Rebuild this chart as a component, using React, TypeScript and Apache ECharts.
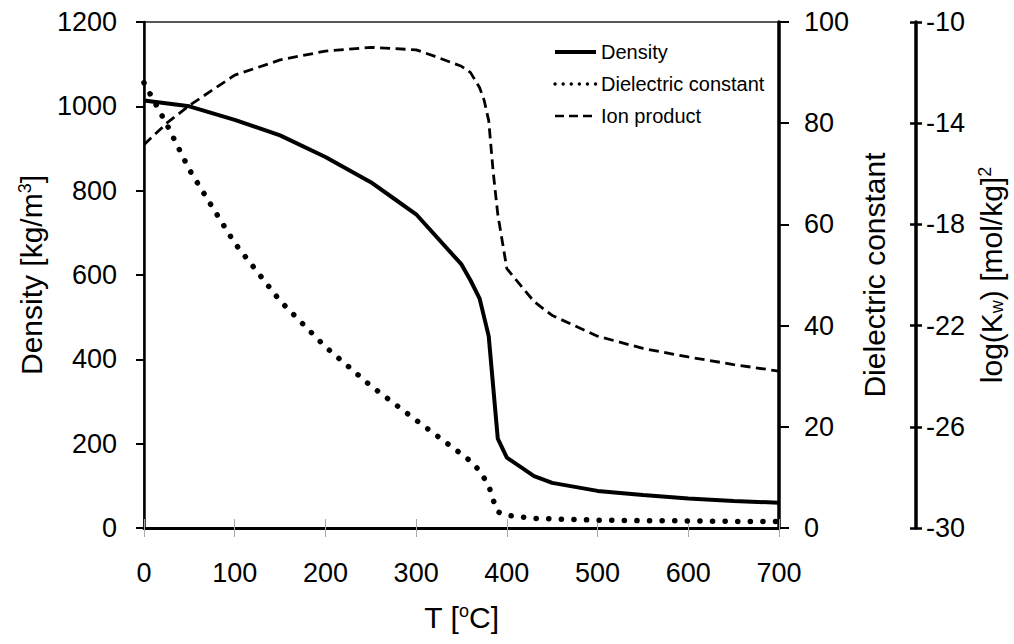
import React, { useEffect, useRef } from "react";
import * as echarts from "echarts";

// Temperature [°C] and values
const densityT = [0, 50, 100, 150, 200, 250, 275, 300, 350, 360, 370, 380, 390, 400, 430, 450, 500, 550, 600, 650, 700];
const densityV = [1014, 1000, 968, 931, 880, 820, 782, 744, 625, 587, 544, 455, 212, 167, 123, 107, 88, 78, 70, 64, 60];

const dielectricT = [0, 25, 50, 75, 100, 150, 200, 250, 300, 350, 360, 370, 380, 385, 390, 400, 430, 450, 500, 550, 600, 650, 700];
const dielectricV = [88, 79.8, 70.8, 63.5, 56.3, 44.9, 35.8, 28.1, 21.3, 14.6, 13.2, 11.3, 8.4, 5.5, 3.2, 2.5, 1.9, 1.8, 1.55, 1.45, 1.4, 1.3, 1.3];

const ionT = [0, 25, 50, 100, 150, 200, 250, 300, 320, 350, 360, 370, 375, 380, 385, 390, 400, 430, 450, 500, 550, 600, 650, 700];
const ionV = [-14.85, -14.0, -13.3, -12.1, -11.5, -11.15, -11.0, -11.1, -11.35, -11.75, -12.0, -12.6, -13.1, -13.9, -15.95, -17.6, -19.75, -21.05, -21.6, -22.42, -22.9, -23.24, -23.54, -23.8];

const logTicks = [-30, -26, -22, -18, -14, -10];

const seriesNames = ["Density", "Dielectric constant", "Ion product"];

const FONT = "'Liberation Sans', Arial, Helvetica, sans-serif";

const pairs = (xs: number[], ys: number[]) => xs.map((x, i) => [x, ys[i]]);

export default function App() {
  const ref = useRef<HTMLDivElement>(null);

  useEffect(() => {
    if (!ref.current) return;
    const chart = echarts.init(ref.current, null, { renderer: "svg" });

    const rich = {
      sup: { fontSize: 18, verticalAlign: "top", fontFamily: FONT, color: "#000", padding: [0, 0, 8, 0] },
      sub: { fontSize: 18, verticalAlign: "bottom", fontFamily: FONT, color: "#000", padding: [8, 0, 0, 0] },
    };
    const nameStyle = { fontSize: 30, fontFamily: FONT, color: "#000", rich };
    const labelStyle = { fontSize: 27, fontFamily: FONT, color: "#000" };
    const plain = (v: number) => String(v);

    const option: any = {
      animation: false,
      backgroundColor: "#fff",
      textStyle: { fontFamily: FONT, color: "#000" },
      grid: {
        left: 144,
        right: 227,
        top: 22,
        bottom: 116,
        show: true,
        borderColor: "#222",
        borderWidth: 1.5,
        containLabel: false,
      },
      legend: {
        orient: "vertical",
        left: 548,
        top: 37,
        itemWidth: 41,
        itemHeight: 14,
        itemGap: 12,
        textStyle: { fontSize: 20, fontFamily: FONT, color: "#000" },
        data: [
          { name: seriesNames[0], lineStyle: { width: 4, type: "solid", color: "#000" }, itemStyle: { opacity: 0 } },
          { name: seriesNames[1], lineStyle: { width: 3.4, type: [0.1, 8], cap: "round", color: "#000" }, itemStyle: { opacity: 0 } },
          { name: seriesNames[2], lineStyle: { width: 2.5, type: [9, 5], color: "#000" }, itemStyle: { opacity: 0 } },
        ],
      },
      xAxis: [
        {
          type: "value",
          position: "bottom",
          min: 0,
          max: 700,
          interval: 100,
          name: "T [{sup|o}C]",
          nameLocation: "middle",
          nameGap: 74,
          nameTextStyle: nameStyle,
          axisLine: { show: true, onZero: false, lineStyle: { color: "#000", width: 3 } },
          axisTick: { show: true, length: 9, lineStyle: { color: "#aaa", width: 1 } },
          axisLabel: { ...labelStyle, margin: 31, formatter: plain },
          splitLine: { show: false },
        },
        {
          type: "value",
          position: "bottom",
          min: 0,
          max: 700,
          interval: 100,
          axisLine: { show: false, onZero: false },
          axisTick: { show: true, inside: true, length: 9, lineStyle: { color: "#aaa", width: 1 } },
          axisLabel: { show: false },
          splitLine: { show: false },
        },
      ],
      yAxis: [
        {
          type: "value",
          position: "left",
          min: 0,
          max: 1200,
          interval: 200,
          name: "Density [kg/m{sup|3}]",
          nameLocation: "middle",
          nameGap: 98,
          nameTextStyle: nameStyle,
          axisLine: { show: true, onZero: false, lineStyle: { color: "#000", width: 2.5 } },
          axisTick: { show: true, length: 8, lineStyle: { color: "#000", width: 2 } },
          axisLabel: { ...labelStyle, margin: 27, formatter: plain },
          splitLine: { show: false },
        },
        {
          type: "value",
          position: "right",
          offset: 0,
          min: 0,
          max: 100,
          interval: 20,
          name: "Dielectric constant",
          nameLocation: "middle",
          nameGap: 80,
          nameTextStyle: nameStyle,
          axisLine: { show: true, onZero: false, lineStyle: { color: "#000", width: 3.5 } },
          axisTick: { show: true, length: 10, lineStyle: { color: "#000", width: 2 } },
          axisLabel: { ...labelStyle, margin: 25, formatter: plain },
          splitLine: { show: false },
        },
        {
          type: "value",
          position: "right",
          offset: 137,
          min: -30,
          max: -10,
          name: "log(K{sub|w}) [mol/kg]{sup|2}",
          nameLocation: "middle",
          nameGap: 60,
          nameTextStyle: nameStyle,
          axisLine: { show: true, onZero: false, lineStyle: { color: "#000", width: 3.5 } },
          axisTick: { show: true, length: 6, customValues: logTicks, lineStyle: { color: "#000", width: 2.5 } },
          axisLabel: { ...labelStyle, margin: 10, customValues: logTicks, formatter: plain },
          splitLine: { show: false },
        },
        {
          type: "value",
          position: "right",
          offset: 137,
          min: -30,
          max: -10,
          axisLine: { show: false, onZero: false },
          axisTick: { show: true, inside: true, length: 6, customValues: logTicks, lineStyle: { color: "#000", width: 2.5 } },
          axisLabel: { show: false, customValues: logTicks },
          splitLine: { show: false },
        },
      ],
      series: [
        {
          name: seriesNames[0],
          type: "line",
          xAxisIndex: 0,
          yAxisIndex: 0,
          data: pairs(densityT, densityV),
          symbol: "none",
          lineStyle: { color: "#000", width: 4 },
          itemStyle: { color: "#000" },
          z: 3,
        },
        {
          name: seriesNames[1],
          type: "line",
          xAxisIndex: 0,
          yAxisIndex: 1,
          data: pairs(dielectricT, dielectricV),
          symbol: "none",
          lineStyle: { color: "#000", width: 5.5, type: [0.1, 12.5], cap: "round" },
          itemStyle: { color: "#000" },
          z: 2,
        },
        {
          name: seriesNames[2],
          type: "line",
          xAxisIndex: 0,
          yAxisIndex: 2,
          data: pairs(ionT, ionV),
          symbol: "none",
          lineStyle: { color: "#000", width: 2.8, type: [10, 5.5] },
          itemStyle: { color: "#000" },
          z: 2,
        },
      ],
    };

    chart.setOption(option);
    return () => {
      chart.dispose();
    };
  }, []);

  return (
    <div
      ref={ref}
      style={{ position: "absolute", left: 0, top: 0, width: 1014, height: 644, background: "#fff" }}
    />
  );
}
